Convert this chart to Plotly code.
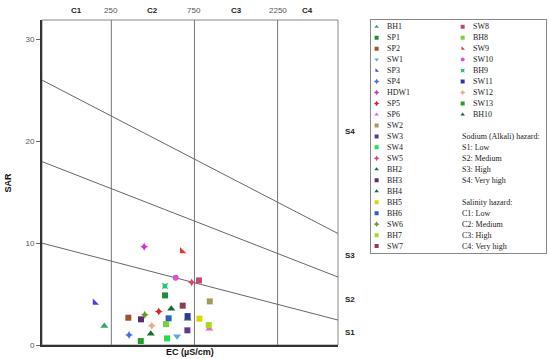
import numpy as np
import plotly.graph_objects as go

# samples (EC in uS/cm, SAR)
names = ['BH1', 'SP1', 'SP2', 'SW1', 'SP3', 'SP4', 'HDW1', 'SP5', 'SP6', 'SW2',
         'SW3', 'SW4', 'SW5', 'BH2', 'BH3', 'BH4', 'BH5', 'BH6', 'SW6', 'BH7',
         'SW7', 'SW8', 'BH8', 'SW9', 'SW10', 'BH9', 'SW11', 'SW12', 'SW13', 'BH10']
ec = [228, 508, 313, 596, 201, 316, 386, 468, 912, 918,
      683, 522, 723, 685, 370, 552, 800, 533, 389, 906,
      642, 796, 515, 637, 585, 508, 685, 427, 369, 421]
sar = [1.86, 4.87, 2.68, 0.85, 4.15, 0.98, 9.64, 3.3, 1.6, 4.28,
       1.44, 0.65, 6.15, 2.58, 2.52, 3.56, 2.58, 2.62, 2.97, 1.96,
       3.86, 6.34, 2.06, 9.2, 6.6, 5.78, 2.84, 1.9, 0.39, 1.1]

# classification lines of the USSL (Richards) diagram
ec_limits = [250, 750, 2250]
ec_ends = [100, 5000]
sodium_left = [26.0, 18.0, 10.0]
sodium_right = [10.94, 6.67, 2.45]
s_labels = ['S1', 'S2', 'S3', 'S4']
s_label_y = [1.25, 4.5, 8.75, 21.0]
c_labels = ['C1', 'C2', 'C3', 'C4']
c_label_x = [158, 433, 1299, 3354]
hazard_text = ['', 'Sodium (Alkali) hazard:', 'S1: Low', 'S2: Medium', 'S3: High', 'S4: Very high',
               '', 'Salinity hazard:', 'C1: Low', 'C2: Medium', 'C3: High', 'C4: Very high']

style = {
    'BH1': ('#2fa866', 'triangle-up'), 'SP1': ('#1f8f35', 'square'),
    'SP2': ('#a0522d', 'square'), 'SW1': ('#5aa9e6', 'triangle-down'),
    'SP3': ('#4a3ee0', 'triangle-sw'), 'SP4': ('#4a6ee0', 'star-diamond'),
    'HDW1': ('#cc33cc', 'star-diamond'), 'SP5': ('#e01f2d', 'star-diamond'),
    'SP6': ('#e070b8', 'triangle-up'), 'SW2': ('#a39c5c', 'square'),
    'SW3': ('#5e3c8c', 'square'), 'SW4': ('#22e04a', 'square'),
    'SW5': ('#e0406a', 'star-diamond'), 'BH2': ('#1e7030', 'triangle-up'),
    'BH3': ('#5a2e6e', 'square'), 'BH4': ('#1a6530', 'triangle-up'),
    'BH5': ('#d8d800', 'square'), 'BH6': ('#2a5fd0', 'square'),
    'SW6': ('#6c9a1e', 'star-diamond'), 'BH7': ('#a8d820', 'square'),
    'SW7': ('#8c3c4e', 'square'), 'SW8': ('#c04a72', 'square'),
    'BH8': ('#74d432', 'square'), 'SW9': ('#e03a30', 'triangle-sw'),
    'SW10': ('#d255d2', 'circle'), 'BH9': ('#22c47e', 'star-square'),
    'SW11': ('#3434a6', 'square'), 'SW12': ('#f0a488', 'star-diamond'),
    'SW13': ('#24a024', 'square'), 'BH10': ('#1a6b30', 'triangle-up'),
}

fig = go.Figure()

# grid of the diagram
for v in ec_limits:
    fig.add_trace(go.Scatter(x=[v, v], y=[0, 32], mode='lines',
                             line=dict(color='#777', width=1), hoverinfo='skip'))
for a, b in zip(sodium_left, sodium_right):
    fig.add_trace(go.Scatter(x=ec_ends, y=[a, b], mode='lines',
                             line=dict(color='#666', width=1), hoverinfo='skip'))

# samples
for n, x, y in zip(names, ec, sar):
    c, s = style[n]
    sz = 7 if s.startswith('triangle') else 6
    fig.add_trace(go.Scatter(x=[x], y=[y], mode='markers', name=n,
                             marker=dict(color=c, symbol=s, size=sz, line=dict(width=0))))

# legend drawn in its own little axes
col1 = names[:21]
col2 = names[21:]
for i, n in enumerate(col1 + col2):
    c, s = style[n]
    col = 0 if i < 21 else 1
    row = i if i < 21 else i - 21
    fig.add_trace(go.Scatter(x=[6 + col * 86], y=[row], mode='markers', xaxis='x2', yaxis='y2',
                             marker=dict(color=c, symbol=s, size=4, line=dict(width=0)),
                             hoverinfo='skip'))
    fig.add_annotation(x=14 + col * 86, y=row, xref='x2', yref='y2', text=n, showarrow=False,
                       xanchor='left', yanchor='middle',
                       font=dict(family='Liberation Serif', size=8, color='#222'))
for j, t in enumerate(hazard_text):
    if t:
        fig.add_annotation(x=89, y=len(col2) + j, xref='x2', yref='y2', text=t, showarrow=False,
                           xanchor='left', yanchor='middle',
                           font=dict(family='Liberation Serif', size=8, color='#222'))

# labels around the diagram
for t, v in zip(c_labels, c_label_x):
    fig.add_annotation(x=np.log10(v), y=1, xref='x', yref='paper', text='<b>' + t + '</b>',
                       showarrow=False, yanchor='bottom', yshift=3,
                       font=dict(family='Liberation Sans', size=8, color='#222'))
for v in ec_limits:
    fig.add_annotation(x=np.log10(v), y=1, xref='x', yref='paper', text=str(v),
                       showarrow=False, yanchor='bottom', yshift=3,
                       font=dict(family='Liberation Sans', size=8, color='#555'))
for t, v in zip(s_labels, s_label_y):
    fig.add_annotation(x=1, y=v, xref='x domain', yref='y', text='<b>' + t + '</b>',
                       showarrow=False, xanchor='left', xshift=5,
                       font=dict(family='Liberation Sans', size=8, color='#222'))
fig.add_annotation(x=0.5, y=0, xref='x domain', yref='paper', text='<b>EC (µS/cm)</b>',
                   showarrow=False, yanchor='top', yshift=0,
                   font=dict(family='Liberation Sans', size=9, color='#111'))
fig.add_annotation(x=0, y=0.5, xref='paper', yref='y domain', text='<b>SAR</b>', textangle=-90,
                   showarrow=False, xanchor='center', xshift=-35,
                   font=dict(family='Liberation Sans', size=9, color='#111'))

# thin frame on top/right
fig.add_shape(type='rect', xref='x domain', yref='y domain', x0=0, x1=1, y0=0, y1=1,
              line=dict(color='#888', width=1), layer='below')

fig.update_layout(
    width=550, height=359,
    margin=dict(l=42, r=4, t=20, b=14),
    paper_bgcolor='white', plot_bgcolor='white',
    showlegend=False,
    xaxis=dict(type='log', range=[2, np.log10(5000)], domain=[0, 0.5873], automargin=False,
               showticklabels=False, ticks='', showgrid=False, zeroline=False,
               showline=True, linewidth=2, linecolor='#333'),
    yaxis=dict(range=[0, 31.9], tickvals=[0, 10, 20, 30], ticks='outside', ticklen=4,
               tickcolor='#666', tickfont=dict(family='Liberation Sans', size=8, color='#555'),
               automargin=False,
               showgrid=False, zeroline=False, showline=True, linewidth=2, linecolor='#333'),
    xaxis2=dict(range=[0, 175.3], domain=[0.652, 1.0], anchor='y2', automargin=False,
                showticklabels=False, ticks='', showgrid=False, zeroline=False,
                showline=True, mirror=True, linecolor='#888', linewidth=1),
    yaxis2=dict(range=[20.66, -0.61], domain=[0.282, 1.0], anchor='x2', automargin=False,
                showticklabels=False, ticks='', showgrid=False, zeroline=False,
                showline=True, mirror=True, linecolor='#888', linewidth=1),
)

fig.write_html("out.html", config={'displayModeBar': False},
               post_script="document.body.style.margin='0';")
